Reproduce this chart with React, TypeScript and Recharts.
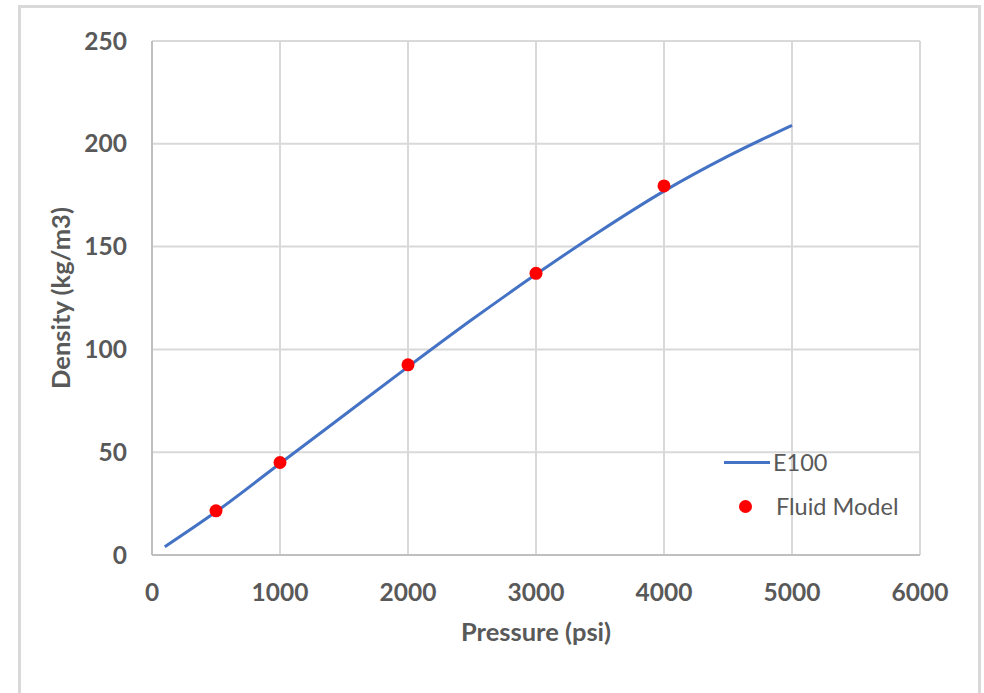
import React from "react";
import {
  ComposedChart,
  Line,
  Scatter,
  XAxis,
  YAxis,
  CartesianGrid,
} from "recharts";

const linePressures = [100, 500, 1000, 1500, 2000, 2500, 3000, 3500, 4000, 4500, 5000];
const lineDensities = [4, 21, 44.5, 68, 91.5, 114.5, 136.5, 157.5, 177, 194, 209];

const modelPressures = [500, 1000, 2000, 3000, 4000];
const modelDensities = [21.5, 45, 92.5, 137, 179.5];

const xTicks = [0, 1000, 2000, 3000, 4000, 5000, 6000];
const yTicks = [0, 50, 100, 150, 200, 250];

const lineSeriesName = "E100";
const scatterSeriesName = "Fluid Model";

const lineData = linePressures.map((p, i) => ({ x: p, y: lineDensities[i] }));
const modelData = modelPressures.map((p, i) => ({ x: p, y: modelDensities[i] }));

const FONT = "Lato, 'Open Sans', sans-serif";
const TEXT = "#595959";

const LegendBox = () => (
  <div
    style={{
      position: "absolute",
      left: 724,
      top: 450,
      fontFamily: FONT,
      fontSize: 23.5,
      color: TEXT,
      lineHeight: "24px",
    }}
  >
    <div style={{ display: "flex", alignItems: "center", height: 24 }}>
      <span style={{ display: "inline-block", width: 46, height: 3, background: "#4472C4", marginRight: 3 }} />
      <span>{lineSeriesName}</span>
    </div>
    <div style={{ display: "flex", alignItems: "center", height: 24, marginTop: 20 }}>
      <span style={{ display: "inline-block", width: 46, marginRight: 6, position: "relative", height: 13 }}>
        <span
          style={{
            position: "absolute",
            left: 15,
            top: 0,
            width: 13,
            height: 13,
            borderRadius: "50%",
            background: "#FF0000",
          }}
        />
      </span>
      <span>{scatterSeriesName}</span>
    </div>
  </div>
);

export default function App() {
  return (
    <div style={{ position: "absolute", left: 0, top: 0, width: 984, height: 693, background: "#fff", overflow: "hidden" }}>
      <div
        style={{
          position: "absolute",
          left: 18,
          top: 5,
          width: 963,
          height: 720,
          border: "3px solid #d9d9d9",
          boxSizing: "border-box",
        }}
      />
      <div style={{ position: "absolute", left: 0, top: 0 }}>
        <ComposedChart
          width={984}
          height={693}
          margin={{ top: 41, right: 64, bottom: 38, left: 0 }}
        >
          <CartesianGrid stroke="#d9d9d9" strokeWidth={2} />
          <XAxis
            type="number"
            dataKey="x"
            domain={[0, 6000]}
            ticks={xTicks}
            interval={0}
            height={100}
            axisLine={{ stroke: "#bfbfbf", strokeWidth: 2 }}
            tickLine={false}
            tick={{ fill: TEXT, fontSize: 24.5, fontWeight: 700, fontFamily: FONT }}
            tickMargin={23}
            label={{
              value: "Pressure (psi)",
              position: "insideTop",
              offset: 68,
              fill: TEXT,
              fontSize: 25.5,
              fontWeight: 700,
              fontFamily: FONT,
            }}
          />
          <YAxis
            type="number"
            dataKey="y"
            domain={[0, 250]}
            ticks={yTicks}
            interval={0}
            width={152}
            axisLine={{ stroke: "#bfbfbf", strokeWidth: 2 }}
            tickLine={false}
            tick={{ fill: TEXT, fontSize: 24.5, fontWeight: 700, fontFamily: FONT }}
            tickMargin={19}
            label={{
              value: "Density (kg/m3)",
              angle: -90,
              position: "insideLeft",
              offset: 61,
              fill: TEXT,
              fontSize: 25.5,
              fontWeight: 700,
              fontFamily: FONT,
              style: { textAnchor: "middle" },
            }}
          />
          <Line
            data={lineData}
            dataKey="y"
            name={lineSeriesName}
            type="monotone"
            stroke="#4472C4"
            strokeWidth={3}
            dot={false}
            activeDot={false}
            isAnimationActive={false}
          />
          <Scatter
            data={modelData}
            dataKey="y"
            name={scatterSeriesName}
            fill="#FF0000"
            shape={(props: any) => <circle cx={props.cx} cy={props.cy} r={6.5} fill="#FF0000" />}
            isAnimationActive={false}
          />
        </ComposedChart>
      </div>
      <LegendBox />
    </div>
  );
}
